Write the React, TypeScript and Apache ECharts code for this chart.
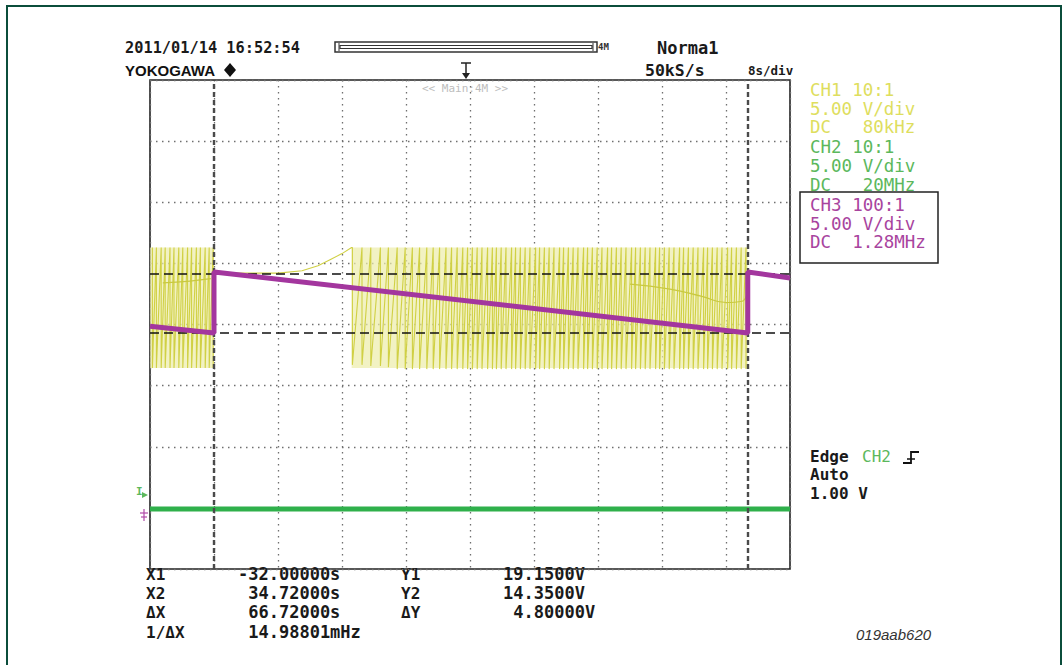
import React, { useEffect, useRef } from "react";
import * as echarts from "echarts";

// ---- data ----
// time axis: 8 s/div, 10 divisions; volts axis: 5 V/div, 8 divisions
const xTicks = { min: -40, max: 40, interval: 8 };
const yTicks = { min: -5, max: 35, interval: 5 };

// CH1 (yellow) oscillation: spike times (s)
const ch1LeftSpikes = [-39.7, -39.2, -38.6, -38.1, -37.5, -37.0, -36.4, -35.9, -35.3, -34.8, -34.2, -33.7, -33.1, -32.6, -32.1];
const ch1LeftHigh = 21.3;
const ch1LeftLow = 11.45;
const ch1RampT = [-32, -24, -21, -19, -17.5, -16, -14.8];
const ch1RampV = [19.2, 19.2, 19.4, 19.8, 20.3, 20.8, 21.3];
const ch1RightSpikes = [-14.7, -13.5, -12.4, -11.2, -10.2, -9.1, -8.1, -7.2, -6.3, -5.4, -4.6, -3.8, -3.0, -2.3, -1.6, -0.9, -0.3, 0.3, 0.9, 1.5, 2.2, 2.8, 3.3, 3.9, 4.5, 5.2, 5.7, 6.3, 6.9, 7.5, 8.2, 8.7, 9.3, 9.9, 10.5, 11.2, 11.7, 12.3, 12.9, 13.5, 14.2, 14.7, 15.3, 15.9, 16.5, 17.2, 17.7, 18.3, 18.9, 19.5, 20.2, 20.7, 21.3, 21.9, 22.5, 23.2, 23.7, 24.3, 24.9, 25.5, 26.2, 26.7, 27.3, 27.9, 28.5, 29.2, 29.7, 30.3, 30.9, 31.5, 32.2, 32.7, 33.3, 33.9, 34.5];
const ch1RightHigh = 21.3;
const ch1RightLows = [11.7, 11.7, 11.6, 11.6, 11.5];
const ch1RightLow = 11.35;
const ch1BandT = [[-40, -32], [-14.8, 34.72]];
const ch1EnvLeftT = [-38.4, -35, -32.4];
const ch1EnvLeftV = [18.4, 18.55, 18.75];
const ch1EnvRightT = [20, 25, 29, 32, 34, 34.7];
const ch1EnvRightV = [18.3, 17.9, 17.3, 16.8, 16.9, 17.8];

// CH2 (green)
const ch2T = [-40, 40];
const ch2V = [-0.1, -0.1];

// CH3 (magenta) sawtooth
const ch3T = [-40, -32, -32, 34.72, 34.72, 40];
const ch3V = [14.85, 14.3, 19.3, 14.3, 19.3, 18.8];

// cursors
const cursorX = [-32, 34.72];
const cursorY = [19.15, 14.35];

// texts
const measXLabels = ["X1", "X2", "ΔX", "1/ΔX"];
const measXValues = ["-32.00000s", " 34.72000s", " 66.72000s", " 14.98801mHz"];
const measYLabels = ["Y1", "Y2", "ΔY"];
const measYValues = ["19.1500V", "14.3500V", " 4.80000V"];
const legendLines = ["CH1 10:1", "5.00 V/div", "DC   80kHz", "CH2 10:1", "5.00 V/div", "DC   20MHz", "CH3 100:1", "5.00 V/div", "DC  1.28MHz"];
const legendColors = ["#dede5e", "#dede5e", "#dede5e", "#5cb85c", "#5cb85c", "#5cb85c", "#a8449e", "#a8449e", "#a8449e"];
const legendY = [90, 108.5, 127, 147, 166, 185, 205, 223.5, 242];
const trigLines = ["Auto", "1.00 V"];

const YEL = "#d0d044";
const GRN = "#2fb04b";
const MAG = "#a3369e";

function buildSpikes(times: number[], high: number, low: number, lows?: number[]) {
  const d: number[][] = [];
  times.forEach((t, i) => {
    const lo = lows && i < lows.length ? lows[i] : low;
    d.push([t, high]);
    d.push([t, lo]);
  });
  return d;
}

export default function App() {
  const ref = useRef<HTMLDivElement>(null);
  useEffect(() => {
    if (!ref.current) return;
    const chart = echarts.init(ref.current, null, { renderer: "svg" });
    const mono = '"DejaVu Sans Mono", monospace';

    const leftData = buildSpikes(ch1LeftSpikes, ch1LeftHigh, ch1LeftLow);
    const rampData = ch1RampT.map((t, i) => [t, ch1RampV[i]]);
    const rightData = rampData.concat(buildSpikes(ch1RightSpikes, ch1RightHigh, ch1RightLow, ch1RightLows));

    const graphic: any[] = [];
    const txt = (x: number, y: number, text: string, font: string, fill = "#1a1a1a", align = "left") =>
      graphic.push({ type: "text", x, y, silent: true, style: { text, font, fill, textAlign: align, textVerticalAlign: "middle" } });

    // outer frame
    graphic.push({ type: "polyline", shape: { points: [[7, 665], [7, 6], [1061, 6], [1061, 665]] }, style: { stroke: "#0b4d3b", lineWidth: 2, fill: "none" } });
    // header
    txt(125, 48, "2011/01/14 16:52:54", `bold 15.3px ${mono}`);
    txt(125, 70, "YOKOGAWA", 'bold 15px "Liberation Sans", Arial, sans-serif', "#111");
    graphic.push({ type: "polygon", shape: { points: [[230, 63], [236, 70], [230, 77], [224, 70]] }, style: { fill: "#111" } });
    graphic.push({ type: "rect", shape: { x: 335, y: 42, width: 262, height: 10 }, style: { fill: "#fff", stroke: "#333", lineWidth: 1.5 } });
    graphic.push({ type: "rect", shape: { x: 340, y: 45.5, width: 252, height: 3 }, style: { fill: "#fff", stroke: "#333", lineWidth: 1.2 } });
    graphic.push({ type: "line", shape: { x1: 339, y1: 43, x2: 339, y2: 51 }, style: { stroke: "#333", lineWidth: 1 } });
    graphic.push({ type: "line", shape: { x1: 593, y1: 43, x2: 593, y2: 51 }, style: { stroke: "#333", lineWidth: 1 } });
    txt(598, 47, "4M", `bold 9px ${mono}`, "#333");
    txt(657, 48, "Norma1", `bold 17px ${mono}`);
    txt(645, 70, "50kS/s", `bold 16.5px ${mono}`);
    txt(748, 70, "8s/div", `bold 12.5px ${mono}`);
    // trigger position marker
    graphic.push({ type: "polyline", shape: { points: [[461, 63], [471, 63]] }, style: { stroke: "#222", lineWidth: 1.5, fill: "none" } });
    graphic.push({ type: "line", shape: { x1: 466, y1: 63, x2: 466, y2: 74 }, style: { stroke: "#222", lineWidth: 1.5 } });
    graphic.push({ type: "polygon", shape: { points: [[462, 73], [470, 73], [466, 79]] }, style: { fill: "#222" } });
    txt(465, 88, "<< Main:4M >>", `11px ${mono}`, "#bdbdbd", "center");
    // channel legend
    legendLines.forEach((s, i) => txt(810, legendY[i], s, `17.5px ${mono}`, legendColors[i]));
    graphic.push({ type: "rect", shape: { x: 800, y: 192, width: 138, height: 71 }, style: { fill: "none", stroke: "#222", lineWidth: 1.5 } });
    // trigger info
    txt(810, 456, "Edge", `bold 16px ${mono}`);
    txt(862, 456, "CH2", `16px ${mono}`, "#5cb85c");
    graphic.push({ type: "polyline", shape: { points: [[903, 463], [911, 463], [911, 452], [919, 452]] }, style: { stroke: "#111", lineWidth: 1.8, fill: "none" } });
    graphic.push({ type: "line", shape: { x1: 907, y1: 459, x2: 915, y2: 459 }, style: { stroke: "#111", lineWidth: 1.5 } });
    trigLines.forEach((s, i) => txt(810, 474 + i * 19, s, `bold 16px ${mono}`));
    // left markers
    txt(136, 491, "I", `bold 11px ${mono}`, "#5cb85c");
    graphic.push({ type: "polygon", shape: { points: [[142, 492], [148, 495], [142, 498]] }, style: { fill: "#5cb85c" } });
    graphic.push({ type: "line", shape: { x1: 140, y1: 513, x2: 148, y2: 513 }, style: { stroke: "#b04aa8", lineWidth: 1.2 } });
    graphic.push({ type: "line", shape: { x1: 141, y1: 517, x2: 147, y2: 517 }, style: { stroke: "#b04aa8", lineWidth: 1.2 } });
    graphic.push({ type: "line", shape: { x1: 144, y1: 509, x2: 144, y2: 521 }, style: { stroke: "#b04aa8", lineWidth: 1.2 } });
    // measurements
    const rowsY = [574, 593, 612, 632];
    measXLabels.forEach((s, i) => txt(146, rowsY[i], s, `bold 16px ${mono}`));
    measXValues.forEach((s, i) => txt(238, rowsY[i], s, `bold 17px ${mono}`));
    measYLabels.forEach((s, i) => txt(401, rowsY[i], s, `bold 16px ${mono}`));
    measYValues.forEach((s, i) => txt(503, rowsY[i], s, `bold 17px ${mono}`));
    txt(856, 634, "019aab620", 'italic 15px "Liberation Sans", Arial, sans-serif', "#333");

    const option: any = {
      animation: false,
      backgroundColor: "#ffffff",
      grid: { left: 150, top: 80, width: 640, height: 489, show: true, borderColor: "#222", borderWidth: 1.6, backgroundColor: "transparent" },
      xAxis: {
        type: "value", min: xTicks.min, max: xTicks.max, interval: xTicks.interval,
        axisLine: { show: false }, axisTick: { show: false }, axisLabel: { show: false },
        splitLine: { show: true, lineStyle: { color: "#6f6f6f", width: 1.3, type: [1.5, 4.5] } },
      },
      yAxis: {
        type: "value", min: yTicks.min, max: yTicks.max, interval: yTicks.interval,
        axisLine: { show: false }, axisTick: { show: false }, axisLabel: { show: false },
        splitLine: { show: true, lineStyle: { color: "#6f6f6f", width: 1.3, type: [1.5, 4.5] } },
      },
      series: [
        {
          type: "line", name: "CH1", data: leftData, showSymbol: false, symbol: "none",
          lineStyle: { color: YEL, width: 1.1 }, z: 2,
          markArea: {
            silent: true,
            itemStyle: { color: "rgba(236,236,170,0.7)" },
            data: ch1BandT.map((b) => [{ xAxis: b[0], yAxis: ch1LeftLow }, { xAxis: b[1], yAxis: ch1LeftHigh }]),
          },
        },
        { type: "line", name: "CH1b", data: rightData, showSymbol: false, symbol: "none", lineStyle: { color: YEL, width: 1.1 }, z: 2 },
        { type: "line", name: "CH1e1", data: ch1EnvLeftT.map((t, i) => [t, ch1EnvLeftV[i]]), showSymbol: false, symbol: "none", lineStyle: { color: "#c9c940", width: 1.2 }, smooth: true, z: 2 },
        { type: "line", name: "CH1e2", data: ch1EnvRightT.map((t, i) => [t, ch1EnvRightV[i]]), showSymbol: false, symbol: "none", lineStyle: { color: "#c9c940", width: 1.2 }, smooth: true, z: 2 },
        { type: "line", name: "CH2", data: ch2T.map((t, i) => [t, ch2V[i]]), showSymbol: false, symbol: "none", lineStyle: { color: GRN, width: 5 }, z: 3 },
        {
          type: "line", name: "cursors", data: [], z: 4,
          markLine: {
            silent: true, symbol: "none", label: { show: false },
            data: [
              ...cursorX.map((x) => ({ xAxis: x, lineStyle: { color: "#4a4a4a", width: 2.4, type: [5, 3] } })),
              ...cursorY.map((y) => ({ yAxis: y, lineStyle: { color: "#111", width: 1.5, type: [9, 5] } })),
            ],
          },
        },
        { type: "line", name: "CH3", data: ch3T.map((t, i) => [t, ch3V[i]]), showSymbol: false, symbol: "none", lineStyle: { color: MAG, width: 5 }, z: 5 },
      ],
      graphic,
    };
    chart.setOption(option);
    return () => chart.dispose();
  }, []);
  return <div ref={ref} style={{ position: "absolute", left: 0, top: 0, width: 1063, height: 665 }} />;
}
